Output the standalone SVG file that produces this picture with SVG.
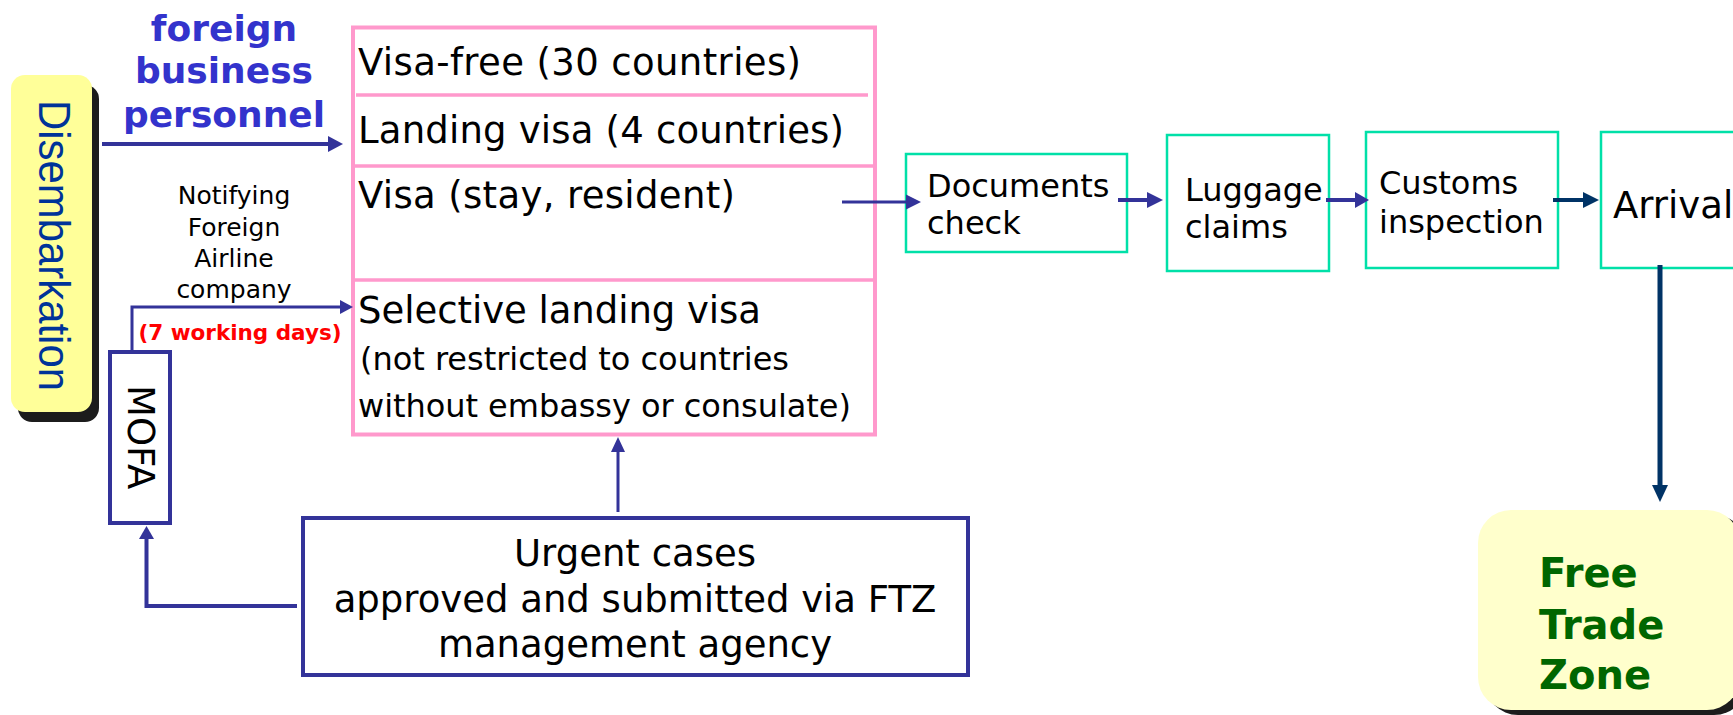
<svg xmlns="http://www.w3.org/2000/svg" width="1733" height="715" viewBox="0 0 1733 715">
<defs>
<style>
.t{font-family:"DejaVu Sans",Verdana,sans-serif;fill:#000}
.b{font-family:"DejaVu Sans",Verdana,sans-serif;font-weight:bold}
.ln{fill:none;stroke:#333399}
.nv{fill:none;stroke:#003366}
.ah{fill:#333399}
.an{fill:#003366}
.flow{fill:#fff;stroke:#00E0A8;stroke-width:2.5}
.pk{fill:none;stroke:#FF99CC}
.bx{fill:#fff;stroke:#333399;stroke-width:4}
</style>
</defs>
<rect width="1733" height="715" fill="#fff"/>

<g id="disembarkation">
<rect x="18" y="85" width="81" height="337" rx="14" fill="#1c1c1c"/>
<rect x="11" y="75" width="81" height="337" rx="14" fill="#FFFF99"/>
<text transform="translate(39,100) rotate(90)" font-family="'Liberation Sans',Arial,sans-serif" font-size="45" fill="#003399" textLength="291" lengthAdjust="spacingAndGlyphs">Disembarkation</text>
</g>

<g id="label-foreign">
<text class="b" font-size="36" fill="#3333CC" text-anchor="middle"><tspan x="224" y="41">foreign</tspan><tspan x="224" y="83">business</tspan><tspan x="224" y="127">personnel</tspan></text>
</g>

<g id="visa-box">
<rect class="pk" x="353" y="27.5" width="522" height="407" stroke-width="4"/>
<line class="pk" x1="356" y1="95" x2="868" y2="95" stroke-width="3.5"/>
<line class="pk" x1="353" y1="166" x2="875" y2="166" stroke-width="3.5"/>
<line class="pk" x1="353" y1="280" x2="875" y2="280" stroke-width="3.5"/>
<text class="t" font-size="37" x="358" y="75" textLength="443" lengthAdjust="spacing">Visa-free (30 countries)</text>
<text class="t" font-size="37" x="358" y="143" textLength="486" lengthAdjust="spacing">Landing visa (4 countries)</text>
<text class="t" font-size="37" x="358" y="208" textLength="377" lengthAdjust="spacing">Visa (stay, resident)</text>
<text class="t" font-size="37" x="358" y="323" textLength="403" lengthAdjust="spacing">Selective landing visa</text>
<text class="t" font-size="32" x="360" y="370" textLength="429" lengthAdjust="spacing">(not restricted to countries</text>
<text class="t" font-size="32" x="358" y="417" textLength="493" lengthAdjust="spacing">without embassy or consulate)</text>
</g>

<g id="label-notifying">
<text class="t" font-size="25" text-anchor="middle"><tspan x="234" y="204">Notifying</tspan><tspan x="234" y="236">Foreign</tspan><tspan x="234" y="267">Airline</tspan><tspan x="234" y="298">company</tspan></text>
<text class="b" font-size="21.5" fill="#FF0000" x="240" y="340" text-anchor="middle">(7 working days)</text>
</g>

<g id="mofa">
<rect class="bx" x="110" y="352" width="60" height="171"/>
<text class="t" font-size="37" transform="translate(128,385) rotate(90)">MOFA</text>
</g>

<g id="urgent">
<rect class="bx" x="303" y="518" width="665" height="157"/>
<text class="t" font-size="37" text-anchor="middle"><tspan x="635" y="566">Urgent cases</tspan><tspan x="635" y="612">approved and submitted via FTZ</tspan><tspan x="635" y="657">management agency</tspan></text>
</g>

<g id="documents">
<rect class="flow" x="906" y="154" width="221" height="98"/>
<text class="t" font-size="32"><tspan x="927" y="197">Documents</tspan><tspan x="927" y="234">check</tspan></text>
</g>

<g id="luggage">
<rect class="flow" x="1167" y="135" width="162" height="136"/>
<text class="t" font-size="32"><tspan x="1185" y="201">Luggage</tspan><tspan x="1185" y="238">claims</tspan></text>
</g>

<g id="customs">
<rect class="flow" x="1366" y="132" width="192" height="136"/>
<text class="t" font-size="32"><tspan x="1379" y="194">Customs</tspan><tspan x="1379" y="233">inspection</tspan></text>
</g>

<g id="arrival">
<rect class="flow" x="1601" y="132" width="140" height="136"/>
<text class="t" font-size="37" x="1613" y="218">Arrival</text>
</g>

<g id="ftz">
<rect x="1485" y="515" width="262" height="200" rx="33" fill="#1c1c1c"/>
<rect x="1478" y="510" width="262" height="200" rx="33" fill="#FFFFCC"/>
<text class="b" font-size="40" fill="#006600"><tspan x="1539" y="587">Free</tspan><tspan x="1539" y="639">Trade</tspan><tspan x="1539" y="689">Zone</tspan></text>
</g>

<g id="connectors">
<line class="ln" x1="102" y1="144" x2="330" y2="144" stroke-width="4"/>
<polygon class="ah" points="328,136 343,144 328,152"/>

<path class="ln" d="M132,351 V307 H342" stroke-width="3"/>
<polygon class="ah" points="340,300 353,307 340,314"/>

<line class="ln" x1="842" y1="202" x2="908" y2="202" stroke-width="3"/>
<polygon class="ah" points="906,194.5 921,202 906,209.5"/>

<line class="ln" x1="1118" y1="200" x2="1149" y2="200" stroke-width="4"/>
<polygon class="ah" points="1147,192 1163,200 1147,208"/>

<line class="ln" x1="1326" y1="200" x2="1357" y2="200" stroke-width="4"/>
<polygon class="ah" points="1355,192 1369,200 1355,208"/>

<line class="nv" x1="1553" y1="200" x2="1585" y2="200" stroke-width="4"/>
<polygon class="an" points="1583,192 1599,200 1583,208"/>

<line class="nv" x1="1660" y1="265" x2="1660" y2="488" stroke-width="5"/>
<polygon class="an" points="1652,485 1660,502 1668,485"/>

<line class="ln" x1="618" y1="512" x2="618" y2="450" stroke-width="3"/>
<polygon class="ah" points="611,452 618,437 625,452"/>

<path class="ln" d="M297,606 H146.5 V536" stroke-width="4"/>
<polygon class="ah" points="139,539 146.5,526 154,539"/>
</g>
</svg>
